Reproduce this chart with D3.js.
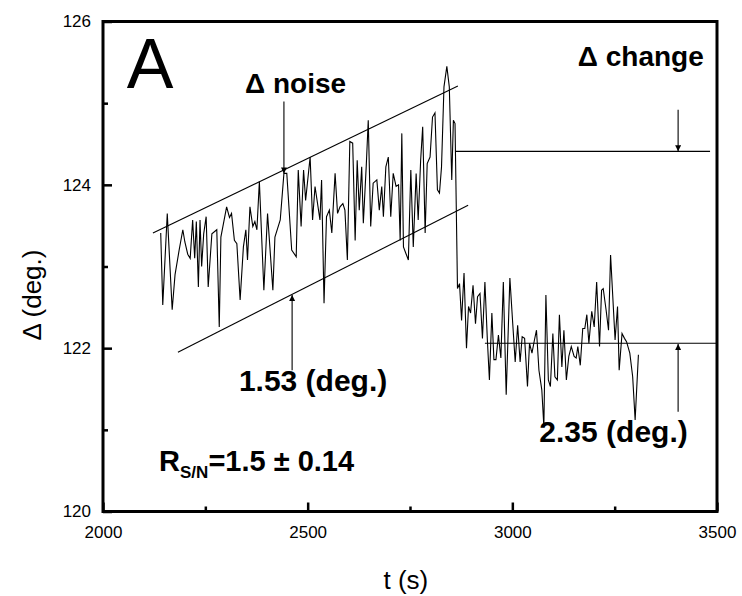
<!DOCTYPE html>
<html>
<head>
<meta charset="utf-8">
<script src="https://cdn.jsdelivr.net/npm/d3@7/dist/d3.min.js"></script>
<style>
  body { margin: 0; background: #fff; }
  text { font-family: "Liberation Sans", Arial, sans-serif; }
</style>
</head>
<body>
<svg id="chart" width="742" height="596"></svg>
<script>
const timeSec = [
  2141, 2146, 2157, 2169, 2176, 2186, 2195, 2200, 2207, 2213, 2219, 2224, 2228, 2233, 2237, 2241, 2246, 2252,
  2257, 2266, 2278, 2284, 2288, 2302, 2309, 2314, 2321, 2327, 2335, 2343, 2349, 2353, 2359, 2366,
  2371, 2376, 2382, 2393, 2402, 2415, 2420, 2433, 2442, 2449, 2461, 2472, 2477, 2484, 2490, 2495,
  2506, 2512, 2518, 2530,
  2534, 2540, 2546, 2553, 2559, 2567, 2573, 2579, 2586, 2591, 2597, 2603, 2610, 2616, 2621, 2626,
  2632, 2636, 2643, 2648, 2654, 2660, 2669, 2675, 2681, 2685, 2691, 2697, 2703, 2709, 2716, 2722,
  2726, 2730, 2734, 2740, 2746, 2752, 2758, 2765, 2770, 2776, 2781, 2787, 2792, 2799, 2805, 2811,
  2817, 2822, 2827, 2833, 2840, 2846, 2852, 2856, 2860,
  2866, 2871, 2876, 2882, 2888, 2893, 2898, 2904, 2910, 2915, 2921, 2927, 2933, 2939, 2944, 2950,
  2955, 2960, 2966, 2972, 2978, 2985, 2990, 2994, 3001, 3007, 3013, 3019, 3024, 3030, 3037, 3042,
  3048, 3054, 3059, 3065, 3072, 3077, 3082, 3088, 3093, 3099, 3104, 3110, 3115, 3121, 3126, 3132,
  3138, 3144, 3151, 3156, 3160, 3166, 3172, 3177, 3182, 3187, 3194, 3200, 3206, 3213, 3218, 3222,
  3229, 3235, 3240, 3251, 3257, 3261, 3268, 3274, 3279, 3287, 3294, 3300, 3308
];
const deltaDeg = [
  123.41, 122.53, 123.65, 122.47, 122.90, 123.20, 123.45, 123.30, 123.15, 123.10, 123.57, 123.10, 123.55, 122.75, 123.57, 123.00, 123.40, 123.61,
  122.75, 123.40, 123.45, 122.26, 123.36, 123.73, 123.60, 123.65, 123.32, 123.28, 122.59, 123.24, 123.45, 123.08, 123.73, 123.49,
  123.55, 123.45, 124.04, 122.71, 123.65, 122.71, 123.36, 123.57, 124.14, 124.14, 123.20, 123.12, 124.18, 123.49, 124.18, 123.81,
  124.34, 123.57, 123.98, 123.57,
  124.06, 122.55, 123.61, 123.69, 123.41, 124.14, 123.65, 123.73, 123.77, 123.69, 123.08, 124.53, 124.51, 123.32, 124.30, 123.69,
  124.22, 123.53, 124.22, 124.79, 123.49, 124.02, 124.06, 123.69, 123.98, 123.61, 124.22, 124.34, 123.61, 124.14, 123.98, 124.00,
  123.32, 124.63, 123.24, 123.16, 123.08, 124.18, 123.24, 124.14, 123.57, 124.30, 124.71, 123.41, 124.26, 124.34, 124.83, 124.88,
  123.94, 123.90, 124.22, 125.20, 125.45, 125.20, 124.06, 124.79, 124.75,
  122.73, 122.79, 122.34, 122.92, 122.00, 122.51, 122.43, 122.77, 122.30, 122.63, 122.67, 122.12, 122.81, 122.10, 121.61, 122.43,
  121.86, 121.86, 122.16, 121.88, 122.81, 121.43, 122.22, 122.86, 122.30, 121.83, 122.28, 121.83, 122.14, 122.12, 121.53, 122.06,
  121.94, 122.10, 122.22, 121.73, 121.49, 121.04, 122.65, 121.61, 121.53, 122.18, 121.65, 121.61, 122.41, 121.77, 122.22, 121.61,
  121.90, 122.02, 121.90, 121.88, 122.02, 121.79, 122.24, 122.24, 122.41, 122.06, 122.45, 122.26, 122.81, 122.02, 122.71, 122.73,
  122.47, 122.22, 123.14, 122.10, 122.51, 121.73, 122.18, 122.12, 122.08, 121.94, 121.65, 121.12, 121.92
];

const xTicks = [2000, 2500, 3000, 3500];
const xMinorTicks = [2250, 2750, 3250];
const yTicks = [120, 122, 124, 126];
const yMinorTicks = [121, 123, 125];

// guide lines drawn over the trace, [t, delta] end points
const upperBand = [[2122, 123.41], [2867, 125.21]];
const lowerBand = [[2183, 121.95], [2892, 123.75]];
const levelHigh = [[2861, 124.41], [3483, 124.41]];
const levelLow = [[2933, 122.06], [3500, 122.06]];

// arrows: [t, delta at tail, delta at head]
const arrows = [
  [2442, 125.02, 124.14],
  [2462, 121.73, 122.65],
  [3405, 124.92, 124.41],
  [3405, 121.22, 122.05]
];

const width = 742, height = 596;
const margin = {top: 21.5, right: 25, bottom: 84.5, left: 103};
const innerW = width - margin.left - margin.right;
const innerH = height - margin.top - margin.bottom;

const svg = d3.select('#chart');
const g = svg.append('g')
  .attr('transform', 'translate(' + margin.left + ',' + margin.top + ')');

const x = d3.scaleLinear().domain([2000, 3500]).range([0, innerW]);
const y = d3.scaleLinear().domain([120, 126]).range([innerH, 0]);

// axes, ticks point inward
g.append('g')
  .attr('transform', 'translate(0,' + innerH + ')')
  .call(d3.axisBottom(x).tickValues(xTicks).tickSize(-9).tickPadding(14).tickFormat(d3.format('d')));
g.append('g')
  .attr('transform', 'translate(0,' + innerH + ')')
  .call(d3.axisBottom(x).tickValues(xMinorTicks).tickSize(-5).tickFormat(''));
g.append('g')
  .call(d3.axisLeft(y).tickValues(yTicks).tickSize(-9).tickPadding(12).tickFormat(d3.format('d')));
g.append('g')
  .call(d3.axisLeft(y).tickValues(yMinorTicks).tickSize(-5).tickFormat(''));

g.selectAll('.domain').remove();
g.selectAll('.tick line').attr('stroke', '#000').attr('stroke-width', 2.5);
g.selectAll('.tick text')
  .attr('font-size', 17)
  .attr('font-family', '"Liberation Sans", Arial, sans-serif')
  .attr('fill', '#000');

g.append('rect')
  .attr('width', innerW)
  .attr('height', innerH)
  .attr('fill', 'none')
  .attr('stroke', '#000')
  .attr('stroke-width', 3);

// the trace
const line = d3.line()
  .x((d, i) => x(timeSec[i]))
  .y(d => y(d));

g.append('path')
  .datum(deltaDeg)
  .attr('fill', 'none')
  .attr('stroke', '#000')
  .attr('stroke-width', 1.1)
  .attr('d', line);

// guides
const guide = d3.line().x(d => x(d[0])).y(d => y(d[1]));
[upperBand, lowerBand, levelHigh, levelLow].forEach(seg => {
  g.append('path')
    .attr('d', guide(seg))
    .attr('stroke', '#000')
    .attr('stroke-width', 1.1)
    .attr('fill', 'none');
});

svg.append('defs').append('marker')
  .attr('id', 'head')
  .attr('viewBox', '0 0 10 10')
  .attr('refX', 10)
  .attr('refY', 5)
  .attr('markerUnits', 'userSpaceOnUse')
  .attr('markerWidth', 11)
  .attr('markerHeight', 6)
  .attr('orient', 'auto')
  .append('path')
  .attr('d', 'M0,0 L10,5 L0,10 Z')
  .attr('fill', '#000');

g.selectAll('.arrow')
  .data(arrows)
  .enter()
  .append('line')
  .attr('class', 'arrow')
  .attr('x1', d => x(d[0]))
  .attr('x2', d => x(d[0]))
  .attr('y1', d => y(d[1]))
  .attr('y2', d => y(d[2]))
  .attr('stroke', '#000')
  .attr('stroke-width', 1.1)
  .attr('marker-end', 'url(#head)');

// annotations
const note = (t, v, size, weight) => g.append('text')
  .attr('x', x(t))
  .attr('y', y(v))
  .attr('font-size', size)
  .attr('font-weight', weight)
  .attr('fill', '#000');

note(2058, 125.19, 70, 'normal').text('A');
note(2347, 125.12, 28, 'bold').text('\u0394 noise');
note(3160, 125.46, 28, 'bold').text('\u0394 change');
note(2332, 121.47, 30, 'bold').text('1.53 (deg.)');
note(3066, 120.85, 30, 'bold').text('2.35 (deg.)');

const rsn = note(2137, 120.50, 29, 'bold');
rsn.append('tspan').text('R');
rsn.append('tspan').attr('font-size', 17).attr('dy', 7).text('S/N');
rsn.append('tspan').attr('dy', -7).text('=1.5 \u00b1 0.14');

// axis titles
svg.append('text')
  .attr('x', margin.left + x(2740))
  .attr('y', 589)
  .attr('text-anchor', 'middle')
  .attr('font-size', 26)
  .text('t (s)');

svg.append('text')
  .attr('transform', 'translate(41,' + (margin.top + y(122.65)) + ') rotate(-90)')
  .attr('text-anchor', 'middle')
  .attr('font-size', 26)
  .text('\u0394 (deg.)');
</script>
</body>
</html>
